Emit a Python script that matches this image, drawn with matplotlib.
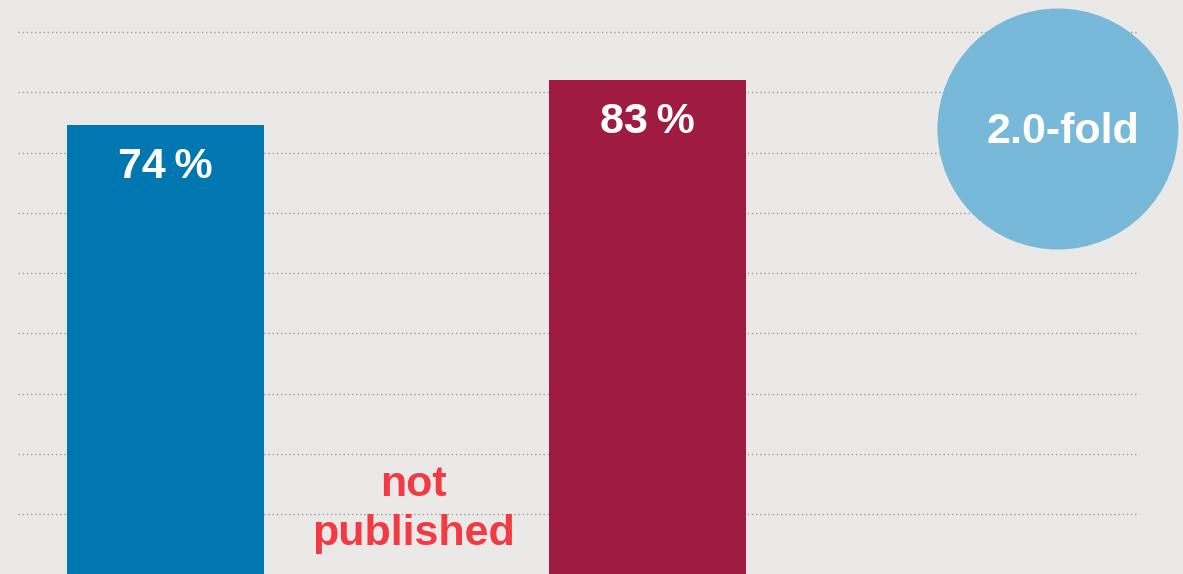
import numpy as np
import matplotlib
matplotlib.use("Agg")
import matplotlib.pyplot as plt
from matplotlib.patches import Ellipse

# Data
categories = ["Group A", "Group B", "Group C"]
values = [74, None, 83]
bar_colors = ["#0077B1", None, "#A01B41"]
missing_label = "not\npublished"
fold_label = "2.0-fold"

BG = "#EBE9E7"
FONT = ["Liberation Sans", "DejaVu Sans"]

fig = plt.figure(figsize=(11.83, 5.74), dpi=100, facecolor=BG)
ax = fig.add_axes([0, 0, 1, 1])
ax.set_facecolor(BG)

ymin, ymax = -15.8, 99.0
ax.set_xlim(-0.687, 4.222)
ax.set_ylim(ymin, ymax)

# Dotted guide lines
grid_levels = 92.6 - 12.05 * np.arange(9)
ax.hlines(grid_levels, -0.612, 4.027, colors="#A39E9A", linewidth=1.0,
          linestyles=(0, (1, 2)), zorder=1)

x = np.arange(len(categories))
for xi, v, c in zip(x, values, bar_colors):
    if v is None:
        ax.text(xi + 0.03, -2.9, missing_label, ha="center", va="center",
                fontsize=31, fontweight="bold", color="#F23A44",
                family=FONT, linespacing=1.3, zorder=3)
        continue
    ax.bar(xi, v - ymin, bottom=ymin, width=0.817, color=c, zorder=2)
    ax.annotate(f"{v}\u2009%", xy=(xi, v), xytext=(0, -30),
                textcoords="offset points", ha="center", va="center",
                fontsize=31, fontweight="bold", color="white",
                family=FONT, zorder=3)

# Fold-change bubble
cx, cy = 3.703, (495 - 129) / 5
ax.add_patch(Ellipse((cx, cy), width=1.0, height=48.2, facecolor="#78B8D9",
                     edgecolor="none", zorder=4))
ax.text(cx + 0.02, cy - 0.6, fold_label, ha="center", va="center", fontsize=31,
        fontweight="bold", color="white", family=FONT, zorder=5)

ax.axis("off")
fig.savefig("out.png", dpi=100, facecolor=BG)
